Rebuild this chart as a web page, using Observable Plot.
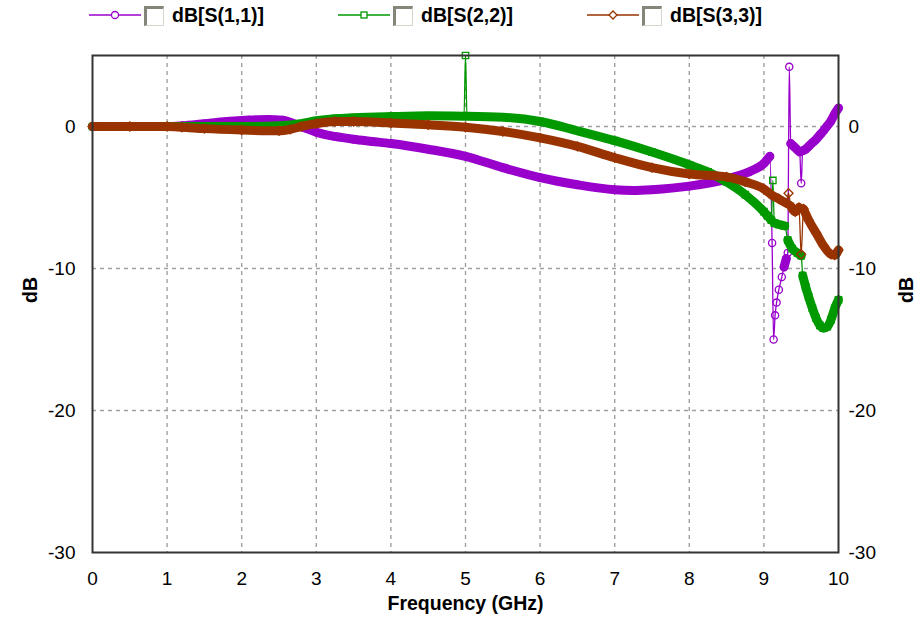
<!DOCTYPE html>
<html>
<head>
<meta charset="utf-8">
<script src="https://cdn.jsdelivr.net/npm/d3@7"></script>
<script src="https://cdn.jsdelivr.net/npm/@observablehq/plot@0.6"></script>
<style>
  body { margin: 0; background: #fff; font-family: "Liberation Sans", Arial, sans-serif; }
  #legend { position: relative; width: 917px; height: 36px; }
  .item { position: absolute; top: 0; height: 36px; }
  .item svg { position: absolute; left: 0; top: 6px; }
  .box { position: absolute; left: 55px; top: 6px; width: 16px; height: 16px;
         border-top: 3px solid #85857a; border-left: 3px solid #85857a;
         border-right: 1px solid #d6d6cc; border-bottom: 1px solid #d6d6cc; background: #fff; }
  .lbl { position: absolute; left: 83px; top: 4px; font-weight: bold; font-size: 19.5px; color: #000; white-space: nowrap; }
</style>
</head>
<body>
<div id="legend"></div>
<div id="chart"></div>
<script>
// ---- data ----
const seriesNames = ["dB[S(1,1)]", "dB[S(2,2)]", "dB[S(3,3)]"];
const seriesColors = ["#9900cc", "#009900", "#993300"];
const xTicks = [0, 1, 2, 3, 4, 5, 6, 7, 8, 9, 10];
const yTicks = [0, -10, -20, -30];

const freqS11 = [0, 0.5, 1.0, 1.2, 1.5, 1.8, 2.1, 2.35, 2.55, 2.7, 2.85, 3.0, 3.25, 3.5, 3.75, 4.0, 4.5, 5.0, 5.5, 6.0, 6.5, 7.0, 7.25, 7.5, 8.0, 8.5, 8.8, 8.9, 9.0, 9.04, 9.08,
  9.11, 9.13, 9.15, 9.17, 9.2, 9.24, 9.27, 9.3, 9.32, 9.34, 9.36, 9.4, 9.44, 9.48, 9.5, 9.52, 9.56, 9.6, 9.65, 9.7, 9.75, 9.8, 9.85, 9.9, 9.95, 10];
const dbS11 = [0, 0, 0, 0.05, 0.2, 0.35, 0.45, 0.5, 0.45, 0.2, -0.1, -0.4, -0.7, -0.9, -1.05, -1.2, -1.6, -2.1, -2.9, -3.6, -4.1, -4.45, -4.5, -4.45, -4.2, -3.7, -3.2, -2.95, -2.6, -2.35, -2.1,
  -8.2, -15.0, -13.3, -12.4, -11.5, -10.6, -9.9, -9.3, -8.9, 4.2, -1.2, -1.4, -1.6, -1.8, -4.0, -1.7, -1.6, -1.4, -1.15, -0.9, -0.6, -0.3, 0.05, 0.4, 0.9, 1.3];

const freqS22 = [0, 0.5, 1.0, 1.5, 2.0, 2.5, 2.8, 3.0, 3.25, 3.5, 4.0, 4.5, 4.98, 5.0, 5.02, 5.5, 6.0, 6.5, 7.0, 7.5, 8.0, 8.25, 8.5, 8.75, 9.0, 9.05, 9.1,
  9.12, 9.14, 9.2, 9.28, 9.32, 9.38, 9.45, 9.5, 9.52, 9.56, 9.6, 9.65, 9.7, 9.75, 9.8, 9.85, 9.9, 9.95, 10];
const dbS22 = [0, 0, 0, 0, 0, 0.05, 0.2, 0.4, 0.55, 0.62, 0.7, 0.75, 0.72, 5.0, 0.72, 0.65, 0.35, -0.3, -1.0, -1.8, -2.7, -3.2, -3.9, -4.8, -6.0, -6.3, -6.6,
  -3.8, -6.8, -6.9, -7.0, -8.0, -8.6, -8.9, -9.1, -10.5, -11.3, -12.0, -12.8, -13.5, -14.0, -14.2, -14.1, -13.6, -12.8, -12.2];

const freqS33 = [0, 0.5, 1.0, 1.2, 1.5, 2.0, 2.5, 2.65, 2.8, 3.0, 3.25, 3.5, 4.0, 4.5, 5.0, 5.5, 6.0, 6.5, 7.0, 7.5, 8.0, 8.5, 8.75, 9.0, 9.1, 9.2, 9.3,
  9.33, 9.36, 9.42, 9.47, 9.5, 9.53, 9.6, 9.7, 9.8, 9.9, 9.95, 10];
const dbS33 = [0, 0, 0, -0.05, -0.15, -0.25, -0.3, -0.2, 0.0, 0.2, 0.35, 0.35, 0.25, 0.12, -0.05, -0.35, -0.8, -1.4, -2.2, -2.9, -3.35, -3.55, -3.9, -4.4, -4.8, -5.1, -5.4,
  -4.7, -5.6, -6.0, -5.7, -9.0, -5.8, -6.6, -7.5, -8.4, -9.0, -9.05, -8.7];

const seriesFreq = [freqS11, freqS22, freqS33];
const seriesDb = [dbS11, dbS22, dbS33];
const seriesSymbol = ["circle", "square", "square"];
const seriesRotate = [0, 0, 45];

// ---- legend ----
const legend = document.getElementById("legend");
const legendLeft = [89, 338, 587];
seriesNames.forEach((name, i) => {
  const it = document.createElement("div");
  it.className = "item";
  it.style.left = legendLeft[i] + "px";
  const c = seriesColors[i];
  let marker;
  if (i === 0) marker = `<circle cx="26" cy="9" r="3.5" fill="#fff" stroke="${c}" stroke-width="1.3"/>`;
  else if (i === 1) marker = `<rect x="23" y="6" width="6" height="6" fill="#fff" stroke="${c}" stroke-width="1.3"/>`;
  else marker = `<path d="M26 5 L30 9 L26 13 L22 9 Z" fill="#fff" stroke="${c}" stroke-width="1.3"/>`;
  it.innerHTML = `<svg width="54" height="18"><line x1="0" y1="9" x2="52" y2="9" stroke="${c}" stroke-width="1.5"/>${marker}</svg>` +
    `<div class="box"></div><div class="lbl">${name}</div>`;
  legend.appendChild(it);
});

// ---- marks ----
function toRows(xs, ys) { return xs.map((x, i) => ({x, y: ys[i]})); }
// split a series into runs of gently sloping segments (drawn as a dense-marker band)
function bandRuns(xs, ys) {
  const out = [];
  let run = 0, open = false;
  for (let i = 1; i < xs.length; i++) {
    const s = Math.abs((ys[i] - ys[i - 1]) / (xs[i] - xs[i - 1]));
    if (s < 20) {
      if (!open) { run++; out.push({x: xs[i - 1], y: ys[i - 1], run}); open = true; }
      out.push({x: xs[i], y: ys[i], run});
    } else open = false;
  }
  return out;
}

const seriesMarks = [];
seriesNames.forEach((name, i) => {
  const c = seriesColors[i];
  const rows = toRows(seriesFreq[i], seriesDb[i]);
  seriesMarks.push(
    Plot.line(bandRuns(seriesFreq[i], seriesDb[i]), {x: "x", y: "y", z: "run", curve: "monotone-x", stroke: c, strokeWidth: 9, strokeLinecap: "round", strokeLinejoin: "round"}),
    Plot.line(rows, {x: "x", y: "y", curve: "monotone-x", stroke: c, strokeWidth: 1.3}),
    Plot.dot(rows, {x: "x", y: "y", symbol: seriesSymbol[i], rotate: seriesRotate[i], r: 3.6, stroke: c, fill: "none", strokeWidth: 1.3})
  );
});

const gridStyle = {stroke: "#a0a0a0", strokeOpacity: 1, strokeWidth: 1.4, strokeDasharray: "4,4"};

const plot = Plot.plot({
  width: 917,
  height: 586,
  marginTop: 19,
  marginBottom: 70,
  marginLeft: 92,
  marginRight: 79,
  style: {fontFamily: "'Liberation Sans', Arial, sans-serif", fontSize: "19px", color: "#000", background: "#fff", overflow: "visible"},
  x: {domain: [0, 10]},
  y: {domain: [-30, 5]},
  marks: [
    Plot.gridX(xTicks.filter(d => d > 0 && d < 10), gridStyle),
    Plot.gridY(yTicks.filter(d => d > -30), gridStyle),
    Plot.axisX(xTicks, {tickSize: 0, tickPadding: 19, label: null, tickFormat: d => String(d)}),
    Plot.axisY(yTicks, {anchor: "left", tickSize: 0, tickPadding: 17, label: null, tickFormat: d => String(d)}),
    Plot.axisY(yTicks, {anchor: "right", tickSize: 0, tickPadding: 10, label: null, tickFormat: d => String(d)}),
    ...seriesMarks,
    Plot.frame({stroke: "#333", strokeWidth: 2}),
    Plot.text(["dB"], {text: d => d, frameAnchor: "left", textAnchor: "middle", dx: -62, dy: -14, rotate: -90, fontWeight: "bold", fontSize: 19.5}),
    Plot.text(["dB"], {text: d => d, frameAnchor: "right", textAnchor: "middle", dx: 68, dy: -14, rotate: -90, fontWeight: "bold", fontSize: 19.5}),
    Plot.text(["Frequency (GHz)"], {text: d => d, frameAnchor: "bottom", dy: 57, fontWeight: "bold", fontSize: 19.5})
  ]
});
document.getElementById("chart").appendChild(plot);
</script>
</body>
</html>
